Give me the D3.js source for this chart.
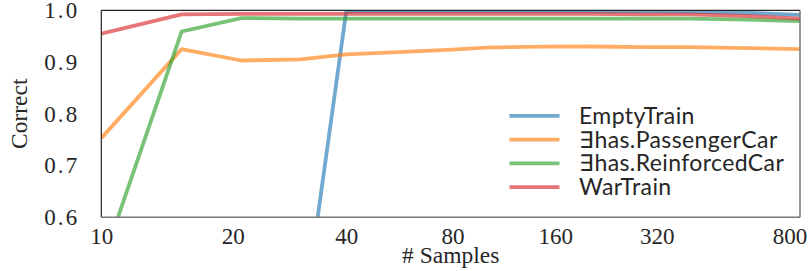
<!DOCTYPE html>
<html>
<head>
<meta charset="utf-8">
<script src="https://cdn.jsdelivr.net/npm/d3@7"></script>
<style>
  html, body { margin: 0; padding: 0; background: #fff; }
  svg { display: block; }
  .serif text, text.serif { font-family: 'Liberation Serif', 'Times New Roman', serif; }
</style>
</head>
<body>
<div id="chart"></div>
<script>
// ---- data ----
const samples = [10, 15, 21, 30, 40, 60, 80, 100, 150, 200, 300, 400, 600, 860];
const emptyTrain      = [0.20, 0.22, 0.26, 0.36, 0.998, 0.998, 0.998, 0.998, 0.998, 0.998, 0.998, 0.997, 0.995, 0.991];
const passengerCar    = [0.753, 0.925, 0.903, 0.905, 0.915, 0.920, 0.924, 0.928, 0.930, 0.930, 0.929, 0.929, 0.927, 0.925];
const reinforcedCar   = [0.506, 0.959, 0.985, 0.984, 0.984, 0.984, 0.984, 0.984, 0.984, 0.984, 0.984, 0.984, 0.982, 0.979];
const warTrain        = [0.955, 0.992, 0.993, 0.993, 0.993, 0.993, 0.993, 0.993, 0.993, 0.993, 0.992, 0.992, 0.989, 0.984];
const seriesNames  = ["EmptyTrain", "\u2203has.PassengerCar", "\u2203has.ReinforcedCar", "WarTrain"];
const seriesColors = ["#1f77b4", "#ff7f0e", "#2ca02c", "#d62728"];
const xTicks = [10, 20, 40, 80, 160, 320, 800];
const yTicks = [0.6, 0.7, 0.8, 0.9, 1.0];
const xLabel = "# Samples";
const yLabel = "Correct";

const allSeries = [emptyTrain, passengerCar, reinforcedCar, warTrain];

// ---- layout ----
const W = 812, H = 271;
const margin = { left: 101.3, top: 10.3, right: 12, bottom: 53.7 };
const w = W - margin.left - margin.right;
const h = H - margin.top - margin.bottom;

const svg = d3.select("#chart").append("svg").attr("width", W).attr("height", H);
const g = svg.append("g").attr("transform", `translate(${margin.left},${margin.top})`);

// x: log scale with a small offset
const xOff = 3.3;
const xLog = d3.scaleLog().domain([samples[0] - xOff, samples[samples.length - 1] - xOff]).range([0, w]);
const x = v => xLog(v - xOff);
const y = d3.scaleLinear().domain([0.6, 1.0]).range([h, 0]);

svg.append("defs").append("clipPath").attr("id", "clip")
  .append("rect").attr("width", w).attr("height", h);

// axes (no tick marks)
const serif = "'Liberation Serif', 'Times New Roman', serif";
const xAxis = g.append("g").attr("class", "serif").attr("transform", `translate(0,${h})`)
  .call(d3.axisBottom(xLog).tickValues(xTicks.map(t => t - xOff)).tickFormat(d => d3.format("d")(Math.round(d + xOff))).tickSize(0).tickPadding(10));
xAxis.attr("font-family", serif).attr("font-size", 23);
xAxis.select(".domain").remove();
xAxis.selectAll("text").attr("fill", "#262626").attr("dy", "0.71em").attr("y", 10.5);

const yAxis = g.append("g").attr("class", "serif")
  .call(d3.axisLeft(y).tickValues(yTicks).tickFormat(d3.format(".1f")).tickSize(0).tickPadding(24));
yAxis.attr("font-family", serif).attr("font-size", 23);
yAxis.select(".domain").remove();
yAxis.selectAll("text").attr("fill", "#262626").attr("letter-spacing", 2.2).attr("x", -21.8);

// lines
const line = d3.line().x((d, i) => x(samples[i])).y(d => y(d));
const lines = g.append("g").attr("clip-path", "url(#clip)");
allSeries.forEach((s, i) => {
  lines.append("path").datum(s)
    .attr("d", line)
    .attr("fill", "none")
    .attr("stroke", seriesColors[i])
    .attr("stroke-opacity", 0.64)
    .attr("stroke-width", 3.8)
    .attr("stroke-linejoin", "round");
});

// frame
g.append("line").attr("x1", 0).attr("x2", w).attr("y1", 0).attr("y2", 0).attr("stroke", "#222").attr("stroke-width", 1.2);
g.append("line").attr("x1", 0).attr("x2", 0).attr("y1", 0).attr("y2", h).attr("stroke", "#222").attr("stroke-width", 1.2);
g.append("line").attr("x1", w).attr("x2", w).attr("y1", 0).attr("y2", h).attr("stroke", "#777").attr("stroke-width", 1.5);
g.append("line").attr("x1", 0).attr("x2", w).attr("y1", h).attr("y2", h).attr("stroke", "#777").attr("stroke-width", 1.5);

// axis labels
svg.append("text").attr("class", "serif").attr("x", margin.left + w / 2).attr("y", 263)
  .attr("text-anchor", "middle").attr("font-size", 23.5).attr("fill", "#262626")
  .text(xLabel);
svg.append("text").attr("class", "serif").attr("transform", `translate(26.5,${margin.top + h / 2}) rotate(-90)`)
  .attr("text-anchor", "middle").attr("font-size", 23.5).attr("fill", "#262626")
  .text(yLabel);

// legend
const leg = g.append("g").attr("transform", `translate(${w - 290.5},${105.5})`);
seriesNames.forEach((name, i) => {
  const row = leg.append("g").attr("transform", `translate(0,${i * 23.8})`);
  row.append("line").attr("x1", 0).attr("x2", 50).attr("y1", 0).attr("y2", 0)
    .attr("stroke", seriesColors[i]).attr("stroke-opacity", 0.64).attr("stroke-width", 3.8);
  row.append("text").attr("x", 69.5).attr("y", 0).attr("dy", "0.35em")
    .attr("font-family", "Lato, 'Open Sans', sans-serif").attr("font-size", 23).attr("letter-spacing", 0.4).attr("fill", "#262626")
    .text(name);
});
</script>
</body>
</html>
